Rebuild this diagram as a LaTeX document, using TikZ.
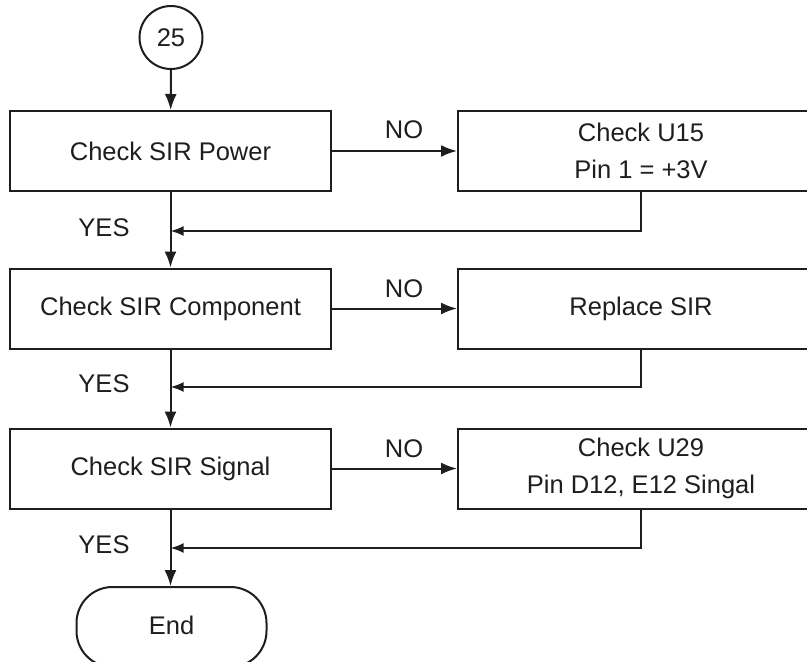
\documentclass[tikz,border=0pt]{standalone}
\usepackage{fontspec}
\setmainfont{Liberation Sans}
\usetikzlibrary{arrows.meta}
\definecolor{ink}{HTML}{1E1E1E}
\begin{document}
\begin{tikzpicture}[x=1pt,y=-1pt,
  every node/.style={font=\fontsize{25.5}{37}\selectfont, text=ink},
  box/.style={draw=ink, line width=2pt, minimum width=321pt, minimum height=80pt, inner sep=0pt, align=center},
  rbox/.style={draw=ink, line width=2pt, minimum width=366pt, minimum height=80pt, inner sep=0pt, align=center},
  arr/.style={draw=ink, line width=2pt, -{Latex[length=16pt,width=12pt]}},
  sarr/.style={draw=ink, line width=2pt, -{Latex[length=13pt,width=10pt]}},
  lbl/.style={inner sep=0pt}]
\clip (0,0) rectangle (807,662);
\node[draw=ink, circle, line width=2pt, minimum size=63pt, inner sep=0pt] (c25) at (171,37.5) {25};
\node[box] (b1) at (170.5,151) {Check SIR Power};
\node[rbox] (r1) at (641,151) {Check U15\\Pin 1 = +3V};
\node[box] (b2) at (170.5,308.5) {Check SIR Component};
\node[rbox] (r2) at (641,308.5) {Replace SIR};
\node[box] (b3) at (170.5,468.5) {Check SIR Signal};
\node[rbox] (r3) at (641,468.5) {Check U29\\Pin D12, E12 Singal};
\node[draw=ink, line width=2pt, rounded corners=36pt, minimum width=190pt, minimum height=80pt, inner sep=0pt] (end) at (171.5,627) {\raisebox{4pt}{End}};
\node[lbl] (no1) at (404,130) {NO};
\node[lbl] (no2) at (404,289) {NO};
\node[lbl] (no3) at (404,449) {NO};
\node[lbl] (yes1) at (104,228) {YES};
\node[lbl] (yes2) at (104,384) {YES};
\node[lbl] (yes3) at (104,545) {YES};
\coordinate (t1) at (641,231);
\coordinate (t2) at (641,387);
\coordinate (t3) at (641,548);
\draw[arr] (c25) -- (b1);
\draw[arr] (b1) -- (r1);
\draw[arr] (b2) -- (r2);
\draw[arr] (b3) -- (r3);
\draw[arr] (b1) -- (b2);
\draw[arr] (b2) -- (b3);
\draw[arr] (b3.south) -- (end.north -| b3.south);
\draw[sarr] (r1.south) -- (t1) -- (b1.south |- t1);
\draw[sarr] (r2.south) -- (t2) -- (b2.south |- t2);
\draw[sarr] (r3.south) -- (t3) -- (b3.south |- t3);
\end{tikzpicture}
\end{document}
